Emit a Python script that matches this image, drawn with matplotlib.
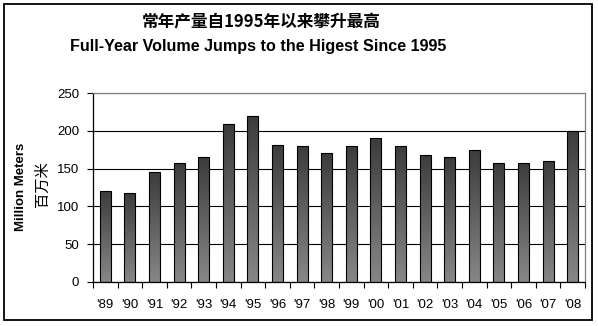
import numpy as np
import matplotlib.pyplot as plt
from matplotlib.colors import LinearSegmentedColormap
from matplotlib.patches import Rectangle

plt.rcParams['font.family'] = ['Liberation Sans', 'Noto Sans CJK SC', 'DejaVu Sans']

# annual volume, million meters
years = ["'89", "'90", "'91", "'92", "'93", "'94", "'95", "'96", "'97", "'98",
         "'99", "'00", "'01", "'02", "'03", "'04", "'05", "'06", "'07", "'08"]
volume = [121, 118, 145, 158, 165, 209, 219, 181, 180, 170,
          180, 190, 180, 168, 165, 174, 158, 158, 160, 200]

fig = plt.figure(figsize=(5.98, 3.26), dpi=100)
ax = fig.add_axes([93 / 598, 44 / 326, 492 / 598, 189 / 326])

x = np.arange(len(years))
width = 0.44
bars = ax.bar(x, volume, width=width, color='none', edgecolor='black', linewidth=0.8, zorder=3)

# vertical grey gradient inside each bar
cmap = LinearSegmentedColormap.from_list('bar', ['#878787', '#3c3c3c'])
grad = np.linspace(0, 1, 256).reshape(-1, 1)
for b in bars:
    x0, y0 = b.get_x(), b.get_y()
    w, h = b.get_width(), b.get_height()
    im = ax.imshow(grad, cmap=cmap, origin='lower', aspect='auto',
                   extent=(x0, x0 + w, y0, y0 + h), zorder=2)
    im.set_clip_path(b)

ax.set_xlim(-0.5, len(years) - 0.5)
ax.set_ylim(0, 250)
ax.set_yticks(range(0, 251, 50))
ax.set_xticks(x)
ax.set_xticklabels(years)
ax.set_xticks(np.arange(-0.5, len(years)), minor=True)
ax.tick_params(axis='x', which='major', length=0, pad=12, labelsize=9.5)
ax.tick_params(axis='x', which='minor', length=4, width=0.8, direction='out')
ax.tick_params(axis='y', length=4, width=0.8, pad=6, labelsize=9.5)

ax.set_axisbelow(True)
ax.yaxis.grid(True, color='black', linewidth=0.8)
for s in ['left', 'bottom']:
    ax.spines[s].set_color('black')
    ax.spines[s].set_linewidth(0.9)
for s in ['top', 'right']:
    ax.spines[s].set_color('#808080')
    ax.spines[s].set_linewidth(0.9)

# titles and axis label
fig.text(261 / 598, 1 - 22 / 326, '常年产量自1995年以来攀升最高', ha='center', va='center',
         fontsize=12, fontweight='bold', family=['Noto Sans CJK SC', 'DejaVu Sans'])
fig.text(258 / 598, 1 - 47 / 326, 'Full-Year Volume Jumps to the Higest Since 1995',
         ha='center', va='center', fontsize=11.6, fontweight='bold')
fig.text(21 / 598, 1 - 187 / 326, 'Million Meters', rotation=90, ha='center', va='center',
         fontsize=9.5, fontweight='bold')
fig.text(42 / 598, 1 - 184 / 326, '百万米', rotation=90, ha='center', va='center',
         fontsize=11, family=['Noto Sans CJK SC', 'DejaVu Sans'])

# outer frame
fig.patches.append(Rectangle((4 / 598, 6 / 326), 588 / 598, 316 / 326, transform=fig.transFigure,
                             fill=False, edgecolor='black', linewidth=1.3))

fig.savefig('out.png', dpi=100)
